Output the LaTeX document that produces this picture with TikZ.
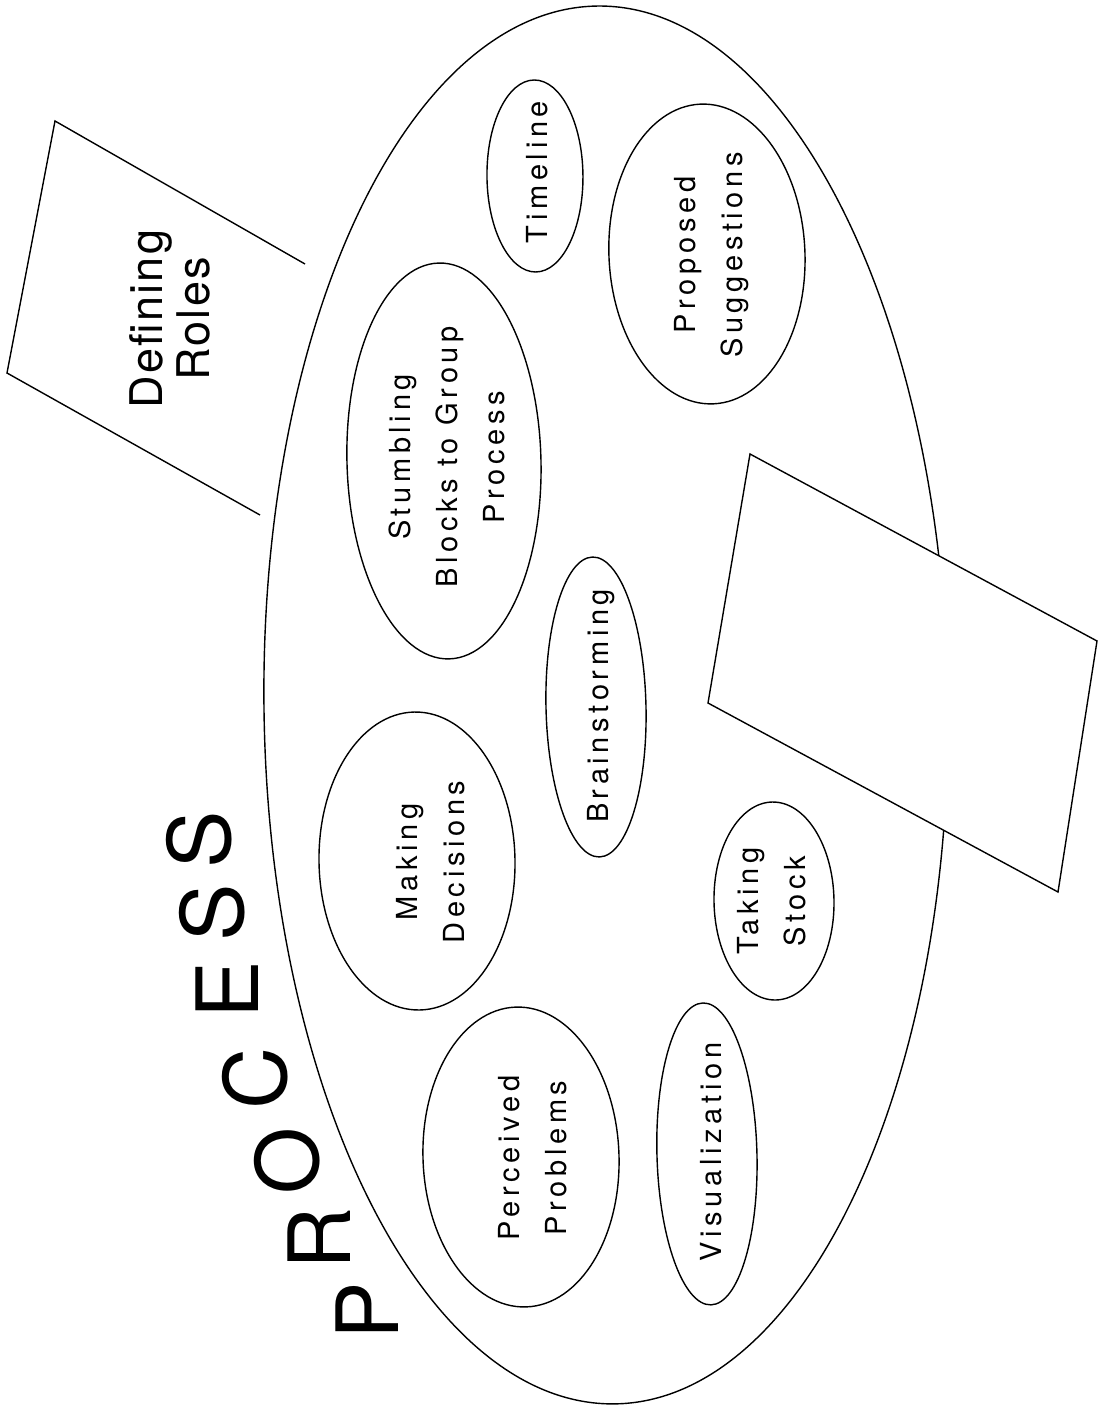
\documentclass[tikz,border=0pt]{standalone}
\usepackage{fontspec}
\setmainfont{TeX Gyre Heros}
\newfontfamily\innerfont[LetterSpace=16]{TeX Gyre Heros}
\newfontfamily\rolefont[LetterSpace=5]{TeX Gyre Heros}
\begin{document}
\begin{tikzpicture}[x=0.5pt,y=-0.5pt,line width=0.7pt,
  intext/.style={font=\innerfont\fontsize{14.5}{23.5}\selectfont,align=center,rotate=90,inner sep=0pt},
  roletext/.style={font=\rolefont\fontsize{22.5}{23.5}\selectfont,align=center,rotate=90,inner sep=0pt},
  bigletter/.style={font=\fontsize{43}{43}\selectfont,rotate=90,anchor=base,inner sep=0pt},
  sheet/.style={draw,fill=white,line join=miter}]
\useasboundingbox (0,0) rectangle (1099,1409);

% Defining Roles sheet (open on the ellipse side)
\coordinate (dra) at (305,264);
\coordinate (drb) at (55,121);
\coordinate (drc) at (7,373);
\coordinate (drd) at (260,515);
\draw (dra) -- (drb) -- (drc) -- (drd);
\node[roletext] (roles) at (170,319) {Defining\\Roles};

% big ellipse
\coordinate (bc) at (606,705);
\draw[fill=white,rotate around={0.7:(bc)}] (bc) ellipse [x radius=171pt, y radius=349.5pt];

% inner ellipses
\coordinate (ctl) at (535,176);
\coordinate (cps) at (707,254);
\coordinate (csb) at (444,461);
\coordinate (cbr) at (596,707);
\coordinate (cmd) at (417,861);
\coordinate (cts) at (774,901);
\coordinate (cpp) at (521,1157);
\coordinate (cvi) at (707,1154);
\draw[rotate around={0.5:(ctl)}] (ctl) ellipse [x radius=24pt, y radius=48pt];
\draw[rotate around={2.5:(cps)}] (cps) ellipse [x radius=49pt, y radius=75pt];
\draw[rotate around={1.5:(csb)}] (csb) ellipse [x radius=48.5pt, y radius=99pt];
\draw[rotate around={1.3:(cbr)}] (cbr) ellipse [x radius=25pt, y radius=75pt];
\draw[rotate around={1:(cmd)}] (cmd) ellipse [x radius=49pt, y radius=74.5pt];
\draw[rotate around={1:(cts)}] (cts) ellipse [x radius=30pt, y radius=49.5pt];
\draw[rotate around={2:(cpp)}] (cpp) ellipse [x radius=49pt, y radius=75pt];
\draw[rotate around={1.5:(cvi)}] (cvi) ellipse [x radius=25pt, y radius=75.5pt];

\node[intext] (timeline) at (537,172) {Timeline};
\node[intext] (proposed) at (712,255) {Proposed\\Suggestions};
\node[intext] (stumbling) at (447,457) {Stumbling\\Blocks to Group\hspace*{15pt}\\Process};
\node[intext] (brain) at (601,706) {Brainstorming};
\node[intext] (making) at (431,862) {Making\\Decisions};
\node[intext] (taking) at (772,901) {Taking\\Stock};
\node[intext] (perceived) at (533,1158) {Perceived\\Problems};
\node[intext] (visual) at (711,1152) {Visualization};

% right blank sheet
\coordinate (rsa) at (750,454);
\coordinate (rsb) at (1097,641);
\coordinate (rsc) at (1058,892);
\coordinate (rsd) at (708,703);
\draw[sheet] (rsa) -- (rsb) -- (rsc) -- (rsd) -- cycle;

% PROCESS
\node[bigletter] (lp) at (398,1311) {P};
\node[bigletter] (lr) at (350,1238) {R};
\node[bigletter] (lo) at (318,1161) {O};
\node[bigletter] (lc) at (286,1078) {C};
\node[bigletter] (le) at (258,990) {E};
\node[bigletter] (ls1) at (243,913) {S};
\node[bigletter] (ls2) at (230,840) {S};
\end{tikzpicture}
\end{document}
